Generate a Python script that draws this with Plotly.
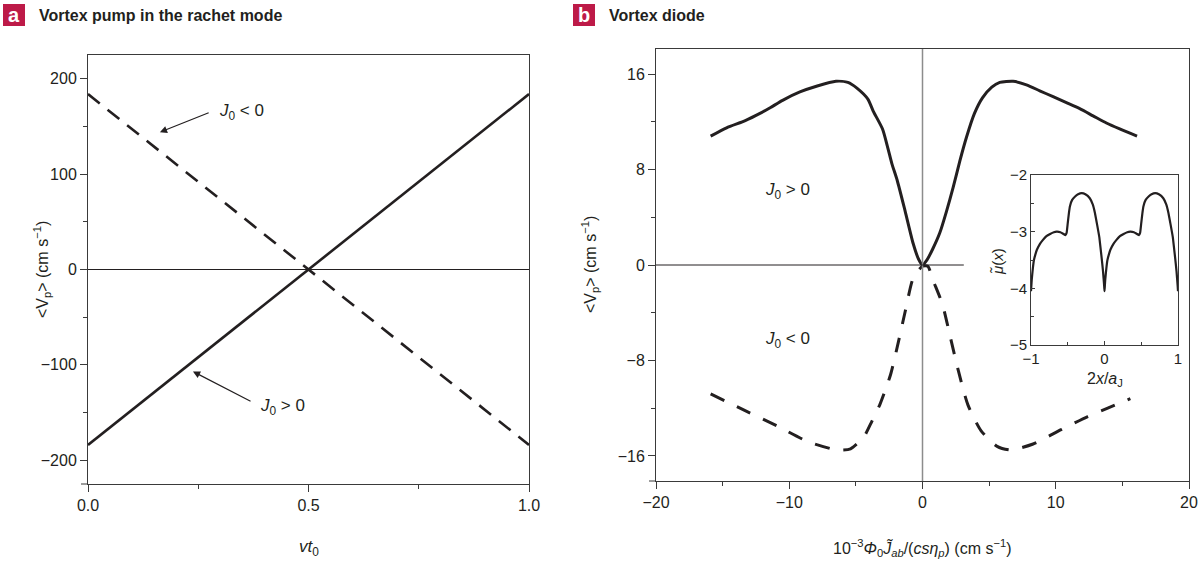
import plotly.graph_objects as go

# ---------------- data ----------------
# Panel a
a_x = [0.0, 1.0]
a_pos = [-184, 184]      # J0 > 0 (solid)
a_neg = [184, -184]      # J0 < 0 (dashed)

# Panel b  (J0 > 0, solid)
b_x_pos = [-15.9, -14.7, -13.3, -12.2, -11.4, -10.5, -9.2, -7.9, -6.5, -5.6, -4.9, -4.1, -3.7, -3.0,
           -2.6, -2.3, -1.9, -1.3, -0.7, -0.3, 0.0, 0.35, 0.75, 1.3, 1.8, 2.3, 2.8, 3.3, 3.9, 4.5,
           5.2, 5.8, 6.8, 7.8, 8.8, 9.8, 10.8, 11.8, 12.8, 13.8, 14.8, 16.1]
b_y_pos = [10.8, 11.5, 12.1, 12.7, 13.2, 13.8, 14.5, 15.0, 15.4, 15.3, 14.8, 13.9, 12.9, 11.4,
           9.8, 8.5, 7.1, 4.5, 1.8, 0.5, 0.0, 0.45, 1.3, 2.7, 4.5, 6.5, 8.7, 10.7, 12.7, 14.0,
           14.9, 15.3, 15.4, 15.1, 14.6, 14.1, 13.6, 13.1, 12.5, 11.9, 11.4, 10.8]
# Panel b  (J0 < 0, dashed)
b_x_neg = [-15.9, -13.5, -10.9, -8.6, -6.4, -5.4, -4.4, -3.8, -3.2, -2.4, -1.8, -1.3, -0.7, 0.0,
           0.4, 0.8, 1.5, 2.1, 2.7, 3.4, 4.4, 5.6, 6.6, 8.3, 10.4, 12.4, 13.9, 15.6]
b_y_neg = [-10.8, -12.1, -13.5, -14.8, -15.5, -15.4, -14.4, -13.1, -11.7, -9.2, -6.4, -3.9, -1.1, -0.1,
           -0.1, -1.3, -3.3, -6.1, -8.9, -11.7, -13.9, -15.2, -15.5, -15.0, -13.8, -12.7, -12.0, -11.2]

# Inset  mu(x)
ins_x = [-1.0, -0.99, -0.975, -0.96, -0.94, -0.92, -0.88, -0.84, -0.79, -0.74, -0.69, -0.65, -0.6,
         -0.56, -0.53, -0.515, -0.5, -0.485, -0.47, -0.44, -0.40, -0.36, -0.31, -0.26, -0.2, -0.16,
         -0.13, -0.1, -0.07, -0.04, -0.02, -0.005, 0.0,
         0.005, 0.01, 0.025, 0.04, 0.06, 0.08, 0.12, 0.16, 0.21, 0.26, 0.31, 0.35, 0.4,
         0.44, 0.47, 0.485, 0.5, 0.515, 0.53, 0.56, 0.60, 0.64, 0.69, 0.74, 0.8, 0.84,
         0.87, 0.9, 0.93, 0.96, 0.98, 0.995, 1.0]
ins_y = [-4.05, -3.85, -3.65, -3.5, -3.4, -3.32, -3.22, -3.15, -3.08, -3.04, -3.01, -3.0, -3.01,
         -3.04, -3.06, -3.02, -2.85, -2.68, -2.55, -2.44, -2.38, -2.34, -2.32, -2.34, -2.41, -2.52,
         -2.67, -2.88, -3.1, -3.45, -3.7, -3.95, -4.05,
         -3.95, -3.85, -3.65, -3.5, -3.4, -3.32, -3.22, -3.15, -3.08, -3.04, -3.01, -3.0, -3.01,
         -3.04, -3.06, -3.02, -2.85, -2.68, -2.55, -2.44, -2.38, -2.34, -2.32, -2.34, -2.41, -2.52,
         -2.67, -2.88, -3.1, -3.45, -3.7, -3.95, -4.05]

a_yticks = [-200, -100, 0, 100, 200]
b_yticks = [-16, -8, 0, 8, 16]

# ---------------- layout helpers ----------------
W, H = 1198, 563
def PX(p): return p / W
def PY(p): return 1 - p / H

FONT = "Liberation Sans, Arial, sans-serif"
BOLD = FONT
INK = "#231f20"
AX = "#3a3a3a"
TS = 16  # tick label size

fig = go.Figure()

fig.add_trace(go.Scatter(x=a_x, y=a_pos, mode="lines", line=dict(color=INK, width=2.6),
                         xaxis="x", yaxis="y", showlegend=False))
fig.add_trace(go.Scatter(x=a_x, y=a_neg, mode="lines", line=dict(color=INK, width=2.6, dash="15px,10px"),
                         xaxis="x", yaxis="y", showlegend=False))
fig.add_trace(go.Scatter(x=b_x_pos, y=b_y_pos, mode="lines",
                         line=dict(color=INK, width=3, shape="spline", smoothing=0.6),
                         xaxis="x2", yaxis="y2", showlegend=False))
fig.add_trace(go.Scatter(x=b_x_neg, y=b_y_neg, mode="lines",
                         line=dict(color=INK, width=3, dash="15px,14px", shape="spline", smoothing=0.6),
                         xaxis="x2", yaxis="y2", showlegend=False))
fig.add_trace(go.Scatter(x=ins_x, y=ins_y, mode="lines",
                         line=dict(color=INK, width=2.2, shape="spline", smoothing=0.3),
                         xaxis="x3", yaxis="y3", showlegend=False))

common = dict(showline=True, linecolor=AX, linewidth=1, mirror=True, showgrid=False,
              zeroline=False, ticks="outside", ticklen=7, tickwidth=1, tickcolor=AX,
              automargin=False, tickfont=dict(family=FONT, size=TS, color=INK))
inset = dict(showline=True, linecolor=AX, linewidth=1, mirror=True, showgrid=False,
             zeroline=False, ticks="inside", ticklen=4, tickcolor=AX, automargin=False,
             tickfont=dict(family=FONT, size=15, color=INK),
             minor=dict(dtick=0.5, ticklen=3, ticks="inside", tickcolor=AX))

fig.update_layout(
    width=W, height=H, margin=dict(l=0, r=0, t=0, b=0, pad=0), autosize=False,
    paper_bgcolor="white", plot_bgcolor="white", showlegend=False,
    font=dict(family=FONT, color=INK),
    xaxis=dict(domain=[PX(88), PX(529)], anchor="y", range=[0, 1], tickvals=[0, 0.5, 1],
               ticktext=["0.0", "0.5", "1.0"],
               minor=dict(dtick=0.25, ticklen=4, ticks="outside", tickcolor=AX), **common),
    yaxis=dict(domain=[PY(484), PY(55)], anchor="x", range=[-225, 225], tickvals=a_yticks,
               minor=dict(dtick=50, ticklen=4, ticks="outside", tickcolor=AX), **common),
    xaxis2=dict(domain=[PX(656), PX(1189)], anchor="y2", range=[-20, 20], dtick=10,
                minor=dict(dtick=5, ticklen=4, ticks="outside", tickcolor=AX), **common),
    yaxis2=dict(domain=[PY(481), PY(49)], anchor="x2", range=[-18.1, 18.1], tickvals=b_yticks,
                minor=dict(dtick=4, ticklen=4, ticks="outside", tickcolor=AX), **common),
    xaxis3=dict(domain=[PX(1031), PX(1178)], anchor="y3", range=[-1, 1], dtick=1, **inset),
    yaxis3=dict(domain=[PY(345), PY(175)], anchor="x3", range=[-5, -2], dtick=1, **inset),
)

shapes = [
    # panel a zero line
    dict(type="line", xref="x", yref="y", x0=0, x1=1, y0=0, y1=0, line=dict(color=INK, width=1)),
    # panel b zero lines
    dict(type="line", xref="x2", yref="y2 domain", x0=0, x1=0, y0=0, y1=1, line=dict(color="#8c8c8c", width=1.5)),
    dict(type="line", xref="x2", yref="y2", x0=-20, x1=3.1, y0=0, y1=0, line=dict(color=INK, width=1)),
    # corner ticks
    dict(type="line", xref="paper", yref="paper", x0=PX(81), x1=PX(88), y0=PY(484), y1=PY(484), line=dict(color=AX, width=1)),
    dict(type="line", xref="paper", yref="paper", x0=PX(649), x1=PX(656), y0=PY(481), y1=PY(481), line=dict(color=AX, width=1)),
    # panel label squares
    dict(type="rect", xref="paper", yref="paper", x0=PX(3), x1=PX(25), y0=PY(26), y1=PY(4),
         fillcolor="#bd1a48", line=dict(width=0)),
    dict(type="rect", xref="paper", yref="paper", x0=PX(573), x1=PX(595), y0=PY(26), y1=PY(4),
         fillcolor="#bd1a48", line=dict(width=0)),
]
fig.update_layout(shapes=shapes)

ann = []
# panel headers
ann.append(dict(xref="paper", yref="paper", x=PX(14), y=PY(15), text="<b>a</b>", showarrow=False,
                font=dict(family=BOLD, size=20, color="white"), xanchor="center", yanchor="middle"))
ann.append(dict(xref="paper", yref="paper", x=PX(584), y=PY(15), text="<b>b</b>", showarrow=False,
                font=dict(family=BOLD, size=20, color="white"), xanchor="center", yanchor="middle"))
ann.append(dict(xref="paper", yref="paper", x=PX(37), y=PY(15), text="<b>Vortex pump in the rachet mode</b>",
                showarrow=False, font=dict(family=BOLD, size=16, color=INK), xanchor="left", yanchor="middle"))
ann.append(dict(xref="paper", yref="paper", x=PX(607), y=PY(15), text="<b>Vortex diode</b>",
                showarrow=False, font=dict(family=BOLD, size=16, color=INK), xanchor="left", yanchor="middle"))
# axis titles
ann.append(dict(xref="paper", yref="paper", x=PX(42), y=PY(270), text="&lt;V<sub>p</sub>&gt; (cm s<sup>−1</sup>)",
                textangle=-90, showarrow=False, font=dict(family=FONT, size=16, color=INK),
                xanchor="center", yanchor="middle"))
ann.append(dict(xref="paper", yref="paper", x=PX(590), y=PY(265), text="&lt;V<sub>p</sub>&gt; (cm s<sup>−1</sup>)",
                textangle=-90, showarrow=False, font=dict(family=FONT, size=16, color=INK),
                xanchor="center", yanchor="middle"))
ann.append(dict(xref="paper", yref="paper", x=PX(309), y=PY(548), text="<i>vt</i><sub>0</sub>",
                showarrow=False, font=dict(family=FONT, size=17, color=INK), xanchor="center", yanchor="middle"))
ann.append(dict(xref="paper", yref="paper", x=PX(922), y=PY(548),
                text="10<sup>−3</sup><i>Φ</i><sub>0</sub><i>J̃</i><sub><i>ab</i></sub>/(<i>csη</i><sub><i>p</i></sub>) (cm s<sup>−1</sup>)",
                showarrow=False, font=dict(family=FONT, size=16, color=INK), xanchor="center", yanchor="middle"))
# inset titles
ann.append(dict(xref="paper", yref="paper", x=PX(997), y=PY(262), text="<i>μ̃</i>(<i>x</i>)",
                textangle=-90, showarrow=False, font=dict(family=FONT, size=15, color=INK),
                xanchor="center", yanchor="middle"))
ann.append(dict(xref="paper", yref="paper", x=PX(1105), y=PY(380), text="2<i>x</i>/<i>a</i><sub>J</sub>",
                showarrow=False, font=dict(family=FONT, size=16, color=INK), xanchor="center", yanchor="middle"))
# panel a labels with arrows
ann.append(dict(xref="x", yref="y", x=0.163, y=144, ax=0.277, ay=165, axref="x", ayref="y", text="",
                showarrow=True, arrowhead=2, arrowsize=1.2, arrowwidth=1.2, arrowcolor=INK, standoff=0))
ann.append(dict(xref="x", yref="y", x=0.347, y=165, text="<i>J</i><sub>0</sub> &lt; 0", showarrow=False,
                font=dict(family=FONT, size=17, color=INK), xanchor="center", yanchor="middle"))
ann.append(dict(xref="x", yref="y", x=0.238, y=-107, ax=0.372, ay=-139, axref="x", ayref="y", text="",
                showarrow=True, arrowhead=2, arrowsize=1.2, arrowwidth=1.2, arrowcolor=INK, standoff=0))
ann.append(dict(xref="x", yref="y", x=0.44, y=-144, text="<i>J</i><sub>0</sub> &gt; 0", showarrow=False,
                font=dict(family=FONT, size=17, color=INK), xanchor="center", yanchor="middle"))
# panel b labels
ann.append(dict(xref="x2", yref="y2", x=-10.1, y=6.2, text="<i>J</i><sub>0</sub> &gt; 0", showarrow=False,
                font=dict(family=FONT, size=17, color=INK), xanchor="center", yanchor="middle"))
ann.append(dict(xref="x2", yref="y2", x=-10.1, y=-6.3, text="<i>J</i><sub>0</sub> &lt; 0", showarrow=False,
                font=dict(family=FONT, size=17, color=INK), xanchor="center", yanchor="middle"))
fig.update_layout(annotations=ann)

fig.write_html("out.html", config={"displayModeBar": False},
               post_script="document.body.style.margin='0px';")
